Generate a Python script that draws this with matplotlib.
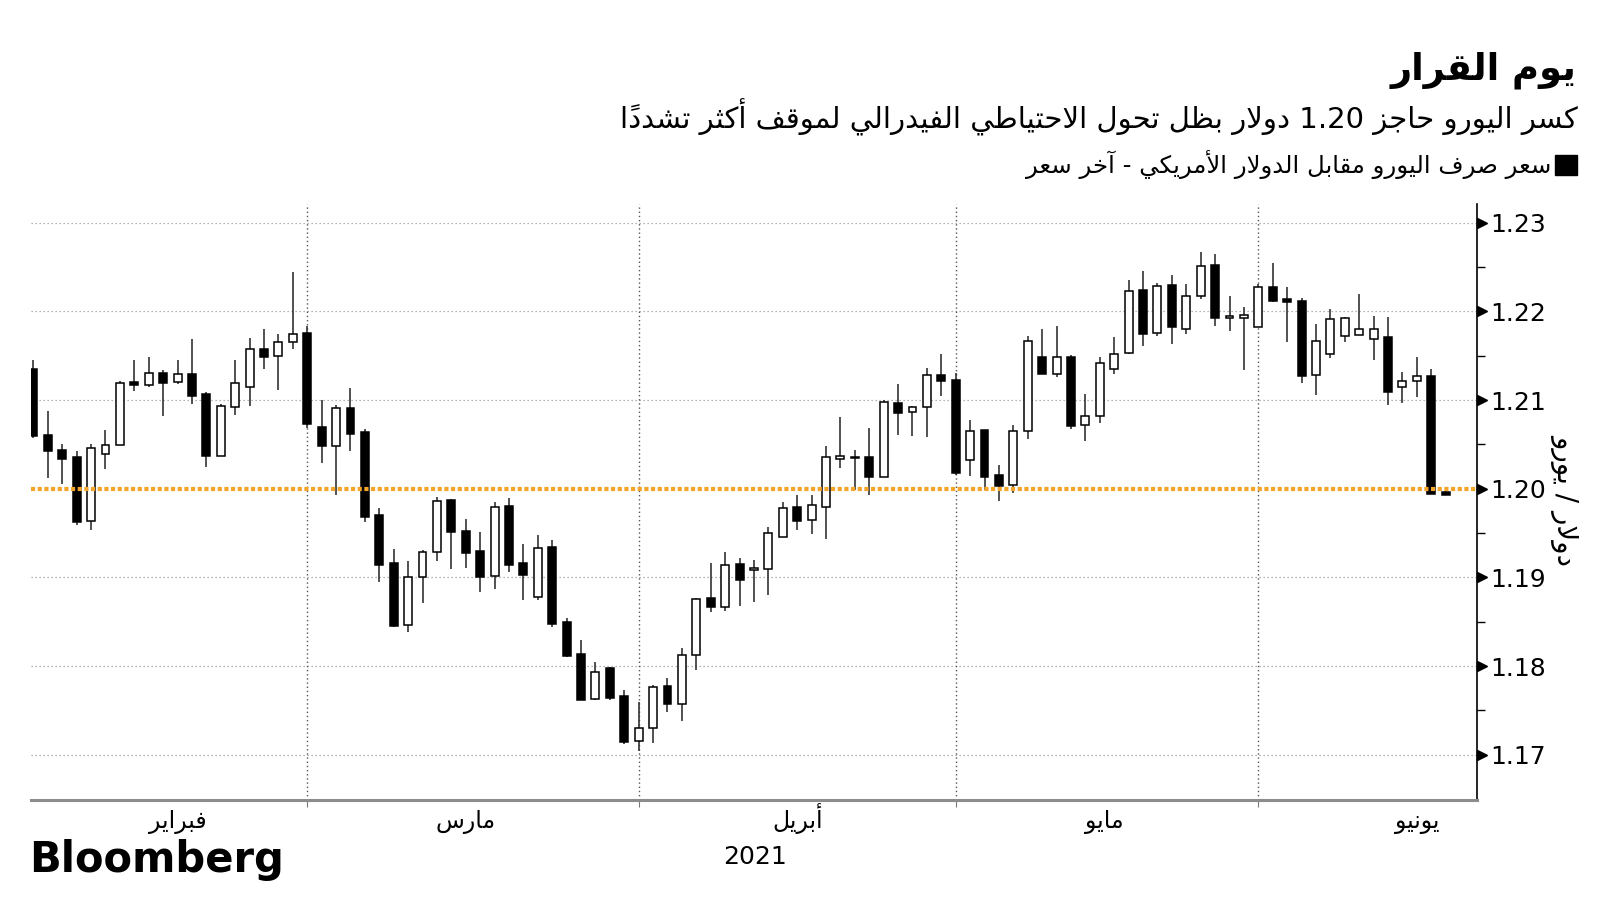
import numpy as np
import pandas as pd
import matplotlib
matplotlib.use("Agg")
import matplotlib.pyplot as plt
from matplotlib import transforms
from matplotlib.patches import Rectangle

# ---------------- data ----------------
dates = pd.bdate_range("2021-02-01", "2021-06-17")

opens = [1.2135, 1.2061, 1.2044, 1.2036, 1.1964, 1.2039, 1.2049, 1.2120, 1.2117, 1.2130, 1.2120, 1.2129, 1.2107, 1.2037, 1.2092, 1.2115, 1.2157, 1.2150, 1.2165,
         1.2176, 1.2070, 1.2048, 1.2091, 1.2064, 1.1970, 1.1916, 1.1846, 1.1901, 1.1929, 1.1987, 1.1952, 1.1930, 1.1902, 1.1980, 1.1916, 1.1878, 1.1934, 1.1850, 1.1814, 1.1763, 1.1798, 1.1766,
         1.1716, 1.1730, 1.1777, 1.1757, 1.1812, 1.1877, 1.1867, 1.1915, 1.1908, 1.1909, 1.1946, 1.1979, 1.1965, 1.1979, 1.2034, 1.2035, 1.2036, 1.2013, 1.2097, 1.2086, 1.2092, 1.2128,
         1.2123, 1.2032, 1.2066, 1.2015, 1.2004, 1.2065, 1.2149, 1.2129, 1.2149, 1.2072, 1.2082, 1.2135, 1.2153, 1.2224, 1.2176, 1.2230, 1.2180, 1.2217, 1.2252, 1.2193, 1.2192,
         1.2182, 1.2228, 1.2214, 1.2212, 1.2128, 1.2152, 1.2172, 1.2173, 1.2169, 1.2171, 1.2115, 1.2121, 1.2127, 1.1996]
highs = [1.2145, 1.2088, 1.2050, 1.2043, 1.2050, 1.2066, 1.2122, 1.2145, 1.2148, 1.2134, 1.2145, 1.2169, 1.2109, 1.2095, 1.2145, 1.2170, 1.2180, 1.2175, 1.2244,
         1.2184, 1.2100, 1.2094, 1.2114, 1.2067, 1.1978, 1.1932, 1.1918, 1.1931, 1.1991, 1.1988, 1.1966, 1.1951, 1.1985, 1.1990, 1.1938, 1.1948, 1.1942, 1.1854, 1.1829, 1.1805, 1.1799, 1.1773,
         1.1759, 1.1779, 1.1787, 1.1820, 1.1877, 1.1916, 1.1929, 1.1922, 1.1920, 1.1957, 1.1985, 1.1993, 1.1993, 1.2048, 1.2081, 1.2044, 1.2069, 1.2100, 1.2118, 1.2093, 1.2136, 1.2152,
         1.2131, 1.2077, 1.2066, 1.2027, 1.2072, 1.2172, 1.2180, 1.2183, 1.2151, 1.2107, 1.2149, 1.2171, 1.2235, 1.2246, 1.2232, 1.2241, 1.2231, 1.2267, 1.2265, 1.2217, 1.2205,
         1.2231, 1.2255, 1.2227, 1.2215, 1.2186, 1.2203, 1.2194, 1.2220, 1.2195, 1.2194, 1.2132, 1.2148, 1.2135, 1.1998]
lows = [1.2057, 1.2012, 1.2005, 1.1959, 1.1954, 1.2022, 1.2049, 1.2110, 1.2115, 1.2082, 1.2118, 1.2096, 1.2024, 1.2037, 1.2083, 1.2093, 1.2135, 1.2111, 1.2157,
        1.2068, 1.2029, 1.1993, 1.2042, 1.1963, 1.1895, 1.1844, 1.1838, 1.1871, 1.1918, 1.1910, 1.1911, 1.1884, 1.1887, 1.1906, 1.1875, 1.1874, 1.1844, 1.1810, 1.1762, 1.1762, 1.1762, 1.1712,
        1.1704, 1.1713, 1.1748, 1.1738, 1.1796, 1.1861, 1.1862, 1.1868, 1.1872, 1.1880, 1.1945, 1.1954, 1.1949, 1.1943, 1.2023, 1.1999, 1.1993, 1.2013, 1.2061, 1.2059, 1.2058, 1.2104,
        1.2016, 1.2014, 1.1999, 1.1986, 1.1995, 1.2056, 1.2129, 1.2126, 1.2067, 1.2054, 1.2074, 1.2129, 1.2152, 1.2161, 1.2172, 1.2163, 1.2174, 1.2214, 1.2183, 1.2178, 1.2134,
        1.2182, 1.2211, 1.2165, 1.2119, 1.2106, 1.2147, 1.2165, 1.2173, 1.2145, 1.2094, 1.2097, 1.2103, 1.1994, 1.1993]
closes = [1.2060, 1.2043, 1.2034, 1.1963, 1.2046, 1.2049, 1.2119, 1.2117, 1.2130, 1.2119, 1.2129, 1.2105, 1.2037, 1.2093, 1.2119, 1.2157, 1.2148, 1.2165, 1.2175,
          1.2073, 1.2048, 1.2091, 1.2062, 1.1968, 1.1914, 1.1845, 1.1901, 1.1929, 1.1986, 1.1951, 1.1928, 1.1901, 1.1979, 1.1914, 1.1903, 1.1933, 1.1848, 1.1811, 1.1762, 1.1793, 1.1764, 1.1714,
          1.1730, 1.1776, 1.1757, 1.1812, 1.1876, 1.1867, 1.1914, 1.1897, 1.1911, 1.1950, 1.1978, 1.1964, 1.1982, 1.2036, 1.2037, 1.2035, 1.2013, 1.2098, 1.2085, 1.2092, 1.2128, 1.2121,
          1.2018, 1.2065, 1.2013, 1.2003, 1.2065, 1.2166, 1.2129, 1.2149, 1.2071, 1.2082, 1.2142, 1.2152, 1.2223, 1.2175, 1.2229, 1.2182, 1.2217, 1.2251, 1.2192, 1.2195, 1.2196,
          1.2227, 1.2212, 1.2211, 1.2127, 1.2167, 1.2191, 1.2192, 1.2180, 1.2180, 1.2109, 1.2121, 1.2127, 1.1994, 1.1993]

threshold = 1.20
y_ticks = [1.17, 1.18, 1.19, 1.20, 1.21, 1.22, 1.23]
month_names = ["فبراير", "مارس", "أبريل", "مايو", "يونيو"]
month_mid = ["2021-02-15", "2021-03-15", "2021-04-15", "2021-05-15", "2021-06-15"]

title = "يوم القرار"
subtitle = "كسر اليورو حاجز 1.20 دولار بظل تحول الاحتياطي الفيدرالي لموقف أكثر تشدداً"
legend_label = "سعر صرف اليورو مقابل الدولار الأمريكي - آخر سعر"
y_label = "دولار / يورو"
year_label = "2021"

# ---------------- Arabic shaping (no external libs) ----------------
FORMS = {
    '\u0622': ('\uFE81', '\uFE82', None, None),
    '\u0623': ('\uFE83', '\uFE84', None, None),
    '\u0625': ('\uFE87', '\uFE88', None, None),
    '\u0627': ('\uFE8D', '\uFE8E', None, None),
    '\u0628': ('\uFE8F', '\uFE90', '\uFE91', '\uFE92'),
    '\u0629': ('\uFE93', '\uFE94', None, None),
    '\u062A': ('\uFE95', '\uFE96', '\uFE97', '\uFE98'),
    '\u062B': ('\uFE99', '\uFE9A', '\uFE9B', '\uFE9C'),
    '\u062C': ('\uFE9D', '\uFE9E', '\uFE9F', '\uFEA0'),
    '\u062D': ('\uFEA1', '\uFEA2', '\uFEA3', '\uFEA4'),
    '\u062E': ('\uFEA5', '\uFEA6', '\uFEA7', '\uFEA8'),
    '\u062F': ('\uFEA9', '\uFEAA', None, None),
    '\u0630': ('\uFEAB', '\uFEAC', None, None),
    '\u0631': ('\uFEAD', '\uFEAE', None, None),
    '\u0632': ('\uFEAF', '\uFEB0', None, None),
    '\u0633': ('\uFEB1', '\uFEB2', '\uFEB3', '\uFEB4'),
    '\u0634': ('\uFEB5', '\uFEB6', '\uFEB7', '\uFEB8'),
    '\u0635': ('\uFEB9', '\uFEBA', '\uFEBB', '\uFEBC'),
    '\u0636': ('\uFEBD', '\uFEBE', '\uFEBF', '\uFEC0'),
    '\u0637': ('\uFEC1', '\uFEC2', '\uFEC3', '\uFEC4'),
    '\u0638': ('\uFEC5', '\uFEC6', '\uFEC7', '\uFEC8'),
    '\u0639': ('\uFEC9', '\uFECA', '\uFECB', '\uFECC'),
    '\u063A': ('\uFECD', '\uFECE', '\uFECF', '\uFED0'),
    '\u0641': ('\uFED1', '\uFED2', '\uFED3', '\uFED4'),
    '\u0642': ('\uFED5', '\uFED6', '\uFED7', '\uFED8'),
    '\u0643': ('\uFED9', '\uFEDA', '\uFEDB', '\uFEDC'),
    '\u0644': ('\uFEDD', '\uFEDE', '\uFEDF', '\uFEE0'),
    '\u0645': ('\uFEE1', '\uFEE2', '\uFEE3', '\uFEE4'),
    '\u0646': ('\uFEE5', '\uFEE6', '\uFEE7', '\uFEE8'),
    '\u0647': ('\uFEE9', '\uFEEA', '\uFEEB', '\uFEEC'),
    '\u0648': ('\uFEED', '\uFEEE', None, None),
    '\u0649': ('\uFEEF', '\uFEF0', None, None),
    '\u064A': ('\uFEF1', '\uFEF2', '\uFEF3', '\uFEF4'),
}
LAM_ALEF = {'\u0622': ('\uFEF5', '\uFEF6'), '\u0623': ('\uFEF7', '\uFEF8'),
            '\u0625': ('\uFEF9', '\uFEFA'), '\u0627': ('\uFEFB', '\uFEFC')}


def is_mark(ch):
    return '\u064B' <= ch <= '\u065F' or ch == '\u0670'


def shape(text):
    clusters = []
    for ch in text:
        if is_mark(ch) and clusters:
            clusters[-1][1].append(ch)
        else:
            clusters.append([ch, []])
    merged = []
    j = 0
    while j < len(clusters):
        ch, m = clusters[j]
        if ch == '\u0644' and j + 1 < len(clusters) and clusters[j + 1][0] in LAM_ALEF:
            merged.append(['LA' + clusters[j + 1][0], m + clusters[j + 1][1]])
            j += 2
        else:
            merged.append([ch, m])
            j += 1

    def joins_next(ch):
        if ch.startswith('LA'):
            return False
        f = FORMS.get(ch)
        return f is not None and f[2] is not None

    def joins_prev(ch):
        return ch.startswith('LA') or ch in FORMS

    shaped = []
    for k, (ch, m) in enumerate(merged):
        pc = merged[k - 1][0] if k > 0 else None
        nc = merged[k + 1][0] if k + 1 < len(merged) else None
        cp = pc is not None and joins_next(pc) and joins_prev(ch)
        cn = nc is not None and joins_next(ch) and joins_prev(nc)
        if ch.startswith('LA'):
            iso, fin = LAM_ALEF[ch[2]]
            g = fin if cp else iso
        elif ch in FORMS:
            iso, fin, ini, med = FORMS[ch]
            if cp and cn:
                g = med
            elif cp:
                g = fin
            elif cn:
                g = ini
            else:
                g = iso
        else:
            g = ch
        shaped.append(g + ''.join(m))
    # visual reordering: keep number runs LTR
    tokens = []
    for s in shaped:
        if s in '0123456789.' and tokens and all(t in '0123456789.' for t in tokens[-1]):
            tokens[-1] += s
        else:
            tokens.append(s)
    return ''.join(reversed(tokens))


plt.rcParams['font.family'] = ['DejaVu Sans']

# ---------------- figure ----------------
fig = plt.figure(figsize=(16, 9), dpi=100)
ax = fig.add_axes([0.0191, 0.1111, 0.9038, 0.6622])

x = np.arange(len(dates))
o = np.array(opens)
h = np.array(highs)
l = np.array(lows)
c = np.array(closes)
up = c > o

# wicks
ax.vlines(x, l, h, color='#333333', linewidth=1.2, zorder=3)
# bodies
bottoms = np.minimum(o, c)
heights = np.maximum(np.abs(c - o), 0.00006)
face = np.where(up, 'white', 'black')
ax.bar(x, heights, bottom=bottoms, width=0.55, color=face, edgecolor='black',
       linewidth=1.1, zorder=4)

# threshold line
ax.axhline(threshold, color='#f2a52a', linewidth=3.0, linestyle=(0, (1.0, 0.6)), zorder=6)

ax.set_xlim(-0.2, 100.15)
ax.set_ylim(1.1649, 1.2321)

# horizontal grid
for yv in y_ticks:
    if abs(yv - threshold) > 1e-9:
        ax.axhline(yv, color='#9a9a9a', linewidth=0.9, linestyle=(0, (1, 2.2)), zorder=1)

# month boundaries (last trading day of each month)
months = dates.month
bounds = [i for i in range(len(dates) - 1) if months[i] != months[i + 1]]
for b in bounds:
    ax.axvline(b, color='#555555', linewidth=1.0, linestyle=(0, (1, 2)), zorder=1)

# x ticks: boundaries (tick marks) + month labels (baseline aligned)
ax.set_xticks(bounds)
ax.set_xticklabels([])
ax.tick_params(axis='x', which='major', length=5, width=0.8, color='#777777', direction='out')
mid_pos = np.interp(pd.to_datetime(month_mid).values.astype('int64'),
                    dates.values.astype('int64'), x)
xtrans = transforms.blended_transform_factory(ax.transData, ax.transAxes)
for pos, name in zip(mid_pos, month_names):
    ax.text(pos, -0.047, shape(name), transform=xtrans, ha='center', va='baseline',
            fontsize=17, clip_on=False)

# y axis on the right
ax.yaxis.tick_right()
ax.set_yticks(y_ticks)
ax.set_yticklabels([f"{v:.2f}" for v in y_ticks], fontsize=18)
ax.tick_params(axis='y', which='major', length=0, pad=9.5)
ax.set_yticks([1.175, 1.185, 1.195, 1.205, 1.215, 1.225], minor=True)
ax.tick_params(axis='y', which='minor', length=6, width=1.0, color='black', direction='out')
trans = transforms.blended_transform_factory(ax.transAxes, ax.transData)
ax.plot([1.0038] * len(y_ticks), y_ticks, marker='>', markersize=7, color='black',
        linestyle='none', transform=trans, clip_on=False, zorder=7)

for s in ['left', 'top']:
    ax.spines[s].set_visible(False)
ax.spines['right'].set_color('black')
ax.spines['right'].set_linewidth(1.2)
ax.spines['bottom'].set_color('#8c8c8c')
ax.spines['bottom'].set_linewidth(2.2)

# ---------------- texts ----------------
fig.text(0.9856, 0.922, shape(title), ha='right', va='center', fontsize=26.5, fontweight='bold')
fig.text(0.9863, 0.870, shape(subtitle), ha='right', va='center', fontsize=21)
fig.patches.append(Rectangle((1555 / 1600, 1 - 175 / 900), 22 / 1600, 20 / 900,
                             transform=fig.transFigure, color='black'))
fig.text(0.9694, 0.8167, shape(legend_label), ha='right', va='center', fontsize=17.6)
fig.text(0.978, 0.4455, shape(y_label), rotation=270, ha='center', va='center', fontsize=20)
fig.text(0.4719, 0.048, year_label, ha='center', va='center', fontsize=18)
fig.text(0.018, 0.0311, "Bloomberg", ha='left', va='baseline', fontsize=30, fontweight='bold')

fig.savefig("out.png", dpi=100)
